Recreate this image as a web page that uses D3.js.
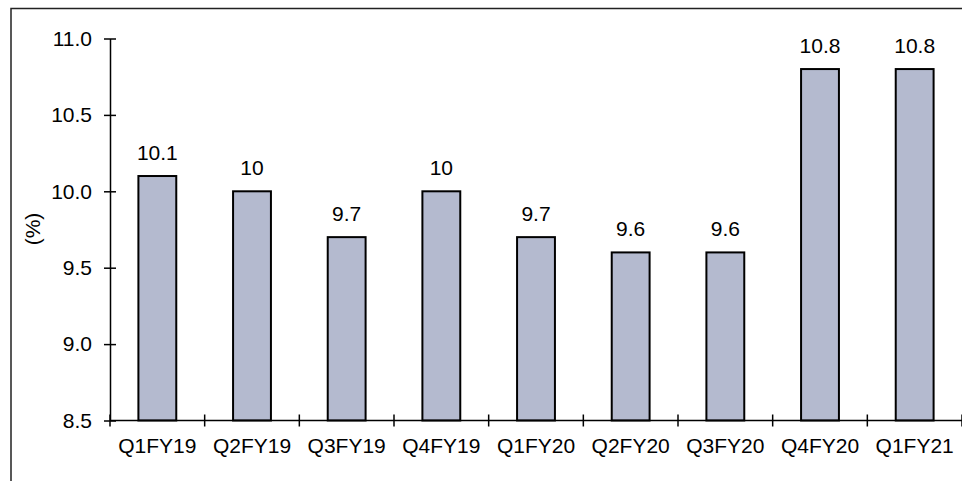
<!DOCTYPE html>
<html>
<head>
<meta charset="utf-8">
<script src="https://cdn.jsdelivr.net/npm/d3@7"></script>
<style>
  html, body { margin: 0; padding: 0; background: #fff; }
  svg { display: block; font-family: Arial, "Liberation Sans", sans-serif; }
</style>
</head>
<body>
<svg id="chart" width="962" height="481"></svg>
<script>
const categories = ["Q1FY19","Q2FY19","Q3FY19","Q4FY19","Q1FY20","Q2FY20","Q3FY20","Q4FY20","Q1FY21"];
const values = [10.1, 10, 9.7, 10, 9.7, 9.6, 9.6, 10.8, 10.8];
const valueLabels = ["10.1","10","9.7","10","9.7","9.6","9.6","10.8","10.8"];
const yTicks = [8.5, 9.0, 9.5, 10.0, 10.5, 11.0];
const yLabel = "(%)";

const FS = 21;
const svg = d3.select("#chart");

// outer frame (clipped at right/bottom like the reference)
svg.append("rect")
  .attr("x", 11).attr("y", 8.5)
  .attr("width", 1000).attr("height", 600)
  .attr("fill", "none").attr("stroke", "#222").attr("stroke-width", 1.5);

const x = d3.scaleBand().domain(categories).range([110, 962]).paddingInner(0.6).paddingOuter(0.3);
const y = d3.scaleLinear().domain([8.5, 11]).range([420.5, 38.5]);

// bars
svg.append("g").selectAll("rect").data(values).join("rect")
  .attr("x", (d, i) => x(categories[i]))
  .attr("y", d => y(d))
  .attr("width", x.bandwidth())
  .attr("height", d => y(8.5) - y(d))
  .attr("fill", "#b4bacf")
  .attr("stroke", "#000")
  .attr("stroke-width", 2);

// y axis
const yAxis = svg.append("g").attr("transform", "translate(110,0)")
  .call(d3.axisLeft(y).tickValues(yTicks).tickFormat(d3.format(".1f")).tickSize(0).tickPadding(18));
yAxis.select(".domain").attr("stroke", "#000").attr("stroke-width", 1.5);
yAxis.selectAll(".tick text").attr("font-size", FS).attr("fill", "#000")
  .attr("font-family", "Arial, 'Liberation Sans', sans-serif");
yAxis.selectAll(".tick").append("line")
  .attr("x1", -6).attr("x2", 6).attr("stroke", "#000").attr("stroke-width", 1.5);

// x axis line
svg.append("line").attr("x1", 110).attr("x2", 962)
  .attr("y1", y(8.5)).attr("y2", y(8.5)).attr("stroke", "#000").attr("stroke-width", 1.5);

// x tick marks at category boundaries
const step = x.step();
const bounds = d3.range(categories.length + 1).map(i => x(categories[0]) - x.paddingOuter() * step + i * step);
svg.append("g").selectAll("line").data(bounds).join("line")
  .attr("x1", d => d).attr("x2", d => d)
  .attr("y1", y(8.5) - 6).attr("y2", y(8.5) + 6)
  .attr("stroke", "#000").attr("stroke-width", 1.5);

// x labels
svg.append("g").selectAll("text").data(categories).join("text")
  .attr("x", d => x(d) + x.bandwidth() / 2)
  .attr("y", y(8.5) + 32)
  .attr("text-anchor", "middle")
  .attr("font-size", FS)
  .attr("fill", "#000")
  .text(d => d);

// value labels
svg.append("g").selectAll("text").data(values).join("text")
  .attr("x", (d, i) => x(categories[i]) + x.bandwidth() / 2)
  .attr("y", d => y(d) - 16)
  .attr("text-anchor", "middle")
  .attr("font-size", FS)
  .attr("fill", "#000")
  .text((d, i) => valueLabels[i]);

// y label
svg.append("text")
  .attr("transform", "translate(40,229) rotate(-90)")
  .attr("text-anchor", "middle")
  .attr("font-size", FS)
  .attr("fill", "#000")
  .text(yLabel);
</script>
</body>
</html>
